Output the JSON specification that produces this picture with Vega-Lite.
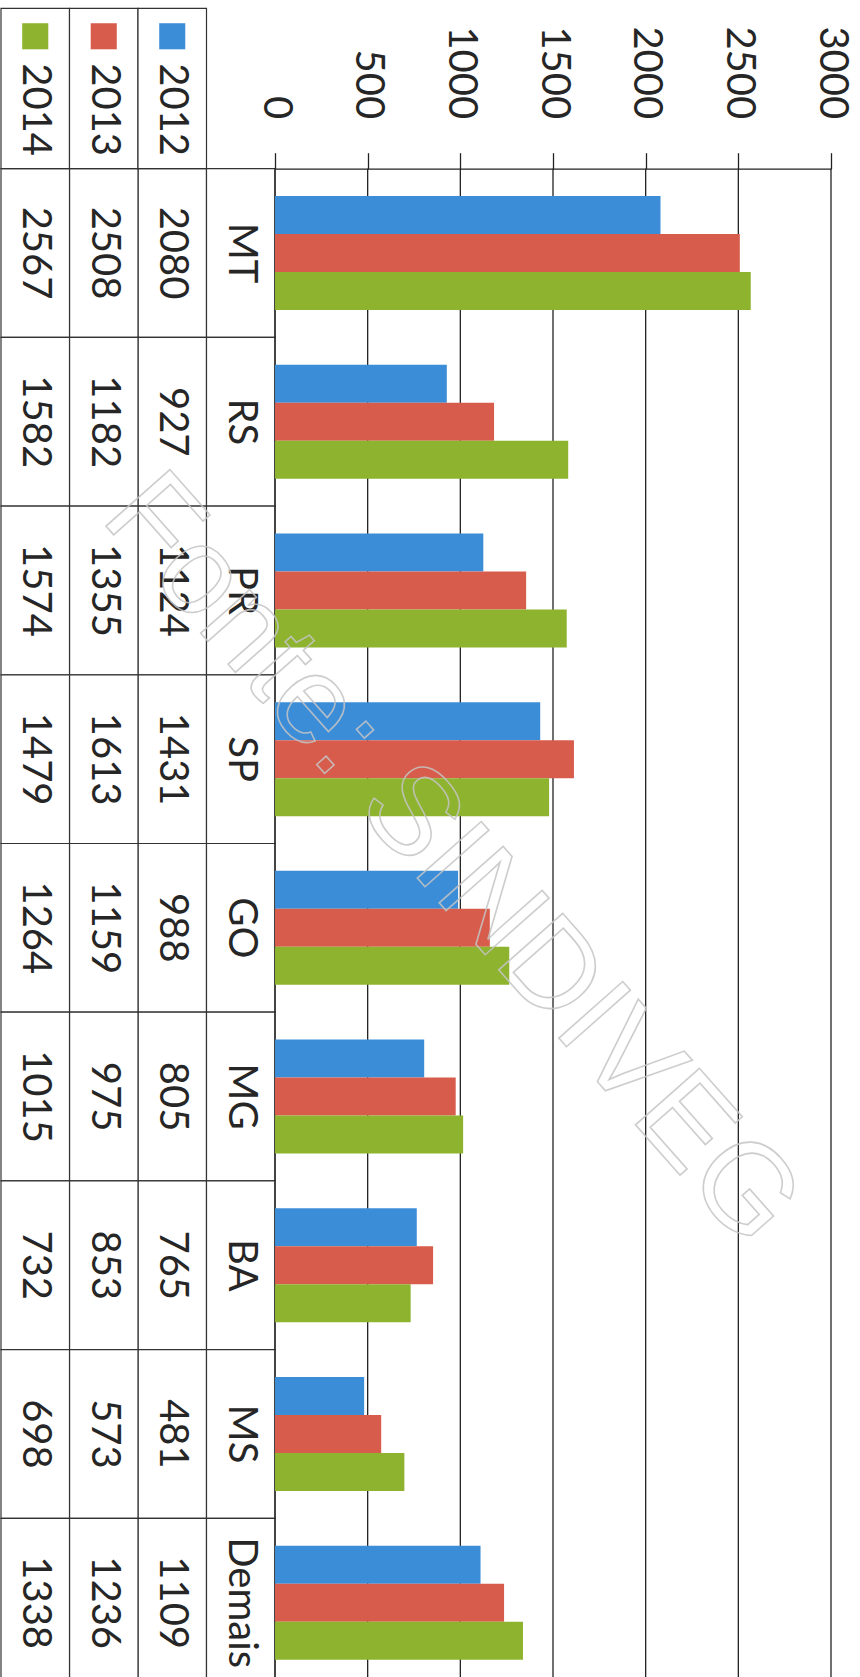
{
  "$schema": "https://vega.github.io/schema/vega-lite/v6.json",
  "padding": 0,
  "spacing": 0,
  "bounds": "flush",
  "background": "white",
  "config": {"view": {"stroke": null}, "font": "Lato"},
  "datasets": {
    "bars": [
      {"cat": "MT", "year": "2012", "value": 2080}, {"cat": "MT", "year": "2013", "value": 2508}, {"cat": "MT", "year": "2014", "value": 2567},
      {"cat": "RS", "year": "2012", "value": 927}, {"cat": "RS", "year": "2013", "value": 1182}, {"cat": "RS", "year": "2014", "value": 1582},
      {"cat": "PR", "year": "2012", "value": 1124}, {"cat": "PR", "year": "2013", "value": 1355}, {"cat": "PR", "year": "2014", "value": 1574},
      {"cat": "SP", "year": "2012", "value": 1431}, {"cat": "SP", "year": "2013", "value": 1613}, {"cat": "SP", "year": "2014", "value": 1479},
      {"cat": "GO", "year": "2012", "value": 988}, {"cat": "GO", "year": "2013", "value": 1159}, {"cat": "GO", "year": "2014", "value": 1264},
      {"cat": "MG", "year": "2012", "value": 805}, {"cat": "MG", "year": "2013", "value": 975}, {"cat": "MG", "year": "2014", "value": 1015},
      {"cat": "BA", "year": "2012", "value": 765}, {"cat": "BA", "year": "2013", "value": 853}, {"cat": "BA", "year": "2014", "value": 732},
      {"cat": "MS", "year": "2012", "value": 481}, {"cat": "MS", "year": "2013", "value": 573}, {"cat": "MS", "year": "2014", "value": 698},
      {"cat": "Demais", "year": "2012", "value": 1109}, {"cat": "Demais", "year": "2013", "value": 1236}, {"cat": "Demais", "year": "2014", "value": 1338}
    ],
    "cats": [{"cat": "MT"}, {"cat": "RS"}, {"cat": "PR"}, {"cat": "SP"}, {"cat": "GO"}, {"cat": "MG"}, {"cat": "BA"}, {"cat": "MS"}, {"cat": "Demais"}],
    "years": [{"year": "2014"}, {"year": "2013"}, {"year": "2012"}],
    "ticks": [{"v": 0}, {"v": 500}, {"v": 1000}, {"v": 1500}, {"v": 2000}, {"v": 2500}, {"v": 3000}]
  },
  "hconcat": [
    {
      "width": 274,
      "height": 1687,
      "layer": [
        {
          "data": {"name": "bars"},
          "mark": {"type": "rect", "fill": "white", "stroke": "#333333", "strokeWidth": 1.2},
          "encoding": {
            "x": {"field": "year", "type": "nominal", "scale": {"domain": ["2014", "2013", "2012", "cat"], "paddingInner": 0, "paddingOuter": 0}, "axis": null},
            "y": {"field": "cat", "type": "nominal", "scale": {"domain": ["hdr", "MT", "RS", "PR", "SP", "GO", "MG", "BA", "MS", "Demais"], "paddingInner": 0, "paddingOuter": 0}, "axis": null}
          }
        },
        {
          "data": {"name": "cats"},
          "mark": {"type": "rect", "fill": "white", "stroke": "#333333", "strokeWidth": 1.2},
          "encoding": {
            "x": {"datum": "cat", "type": "nominal"},
            "y": {"field": "cat", "type": "nominal"}
          }
        },
        {
          "data": {"name": "years"},
          "mark": {"type": "rect", "fill": "white", "stroke": "#333333", "strokeWidth": 1.2},
          "encoding": {
            "x": {"field": "year", "type": "nominal"},
            "y": {"datum": "hdr", "type": "nominal", "bandPosition": 0.05},
            "y2": {"datum": "hdr", "bandPosition": 1}
          }
        },
        {
          "data": {"name": "bars"},
          "mark": {"type": "text", "angle": 90, "fontSize": 40, "font": "Lato", "color": "#262626", "align": "center", "baseline": "middle"},
          "encoding": {
            "x": {"field": "year", "type": "nominal"},
            "y": {"field": "cat", "type": "nominal"},
            "text": {"field": "value", "type": "nominal"}
          }
        },
        {
          "data": {"name": "cats"},
          "mark": {"type": "text", "angle": 90, "fontSize": 40, "font": "Lato", "color": "#262626", "align": "center", "baseline": "middle"},
          "encoding": {
            "x": {"datum": "cat", "type": "nominal"},
            "y": {"field": "cat", "type": "nominal"},
            "text": {"field": "cat", "type": "nominal"}
          }
        },
        {
          "data": {"name": "years"},
          "mark": {"type": "text", "angle": 90, "fontSize": 40, "font": "Lato", "color": "#262626", "align": "center", "baseline": "middle"},
          "encoding": {
            "x": {"field": "year", "type": "nominal"},
            "y": {"datum": "hdr", "type": "nominal", "bandPosition": 0.65},
            "text": {"field": "year", "type": "nominal"}
          }
        },
        {
          "data": {"name": "years"},
          "mark": {"type": "point", "shape": "square", "filled": true, "size": 680, "opacity": 1},
          "encoding": {
            "x": {"field": "year", "type": "nominal"},
            "y": {"datum": "hdr", "type": "nominal", "bandPosition": 0.215},
            "color": {"field": "year", "type": "nominal", "scale": {"domain": ["2012", "2013", "2014"], "range": ["#3c8dd8", "#d85c4c", "#8db32f"]}, "legend": null}
          }
        }
      ]
    },
    {
      "width": 556,
      "height": 1687,
      "layer": [
        {
          "data": {"name": "ticks"},
          "mark": {"type": "rule", "color": "#222222", "strokeWidth": 1.3},
          "encoding": {
            "x": {"field": "v", "type": "quantitative", "scale": {"domain": [0, 3000], "nice": false, "zero": true}},
            "y": {"datum": "MT", "type": "nominal", "bandPosition": 0, "scale": {"domain": ["hdr", "MT", "RS", "PR", "SP", "GO", "MG", "BA", "MS", "Demais"], "paddingInner": 0, "paddingOuter": 0}, "axis": null},
            "y2": {"datum": "Demais", "bandPosition": 1}
          }
        },
        {
          "data": {"name": "bars"},
          "mark": {"type": "bar"},
          "encoding": {
            "x": {
              "field": "value", "type": "quantitative",
              "axis": {
                "orient": "top", "offset": -168.7, "values": [0, 500, 1000, 1500, 2000, 2500, 3000], "format": "d",
                "grid": false, "domain": true, "domainColor": "#222222", "domainWidth": 1.3,
                "ticks": true, "tickSize": 16, "tickColor": "#222222", "tickWidth": 1.3,
                "labelAngle": 90, "labelAlign": "right", "labelBaseline": "middle", "labelPadding": 34,
                "labelFontSize": 40, "labelFont": "Lato", "labelColor": "#262626",
                "labelFlush": false, "labelOverlap": false, "title": null
              }
            },
            "y": {"field": "cat", "type": "nominal", "axis": null},
            "yOffset": {"field": "year", "type": "nominal", "scale": {"domain": ["2012", "2013", "2014"], "paddingInner": 0, "paddingOuter": 0.72}},
            "color": {"field": "year", "type": "nominal", "scale": {"domain": ["2012", "2013", "2014"], "range": ["#3c8dd8", "#d85c4c", "#8db32f"]}, "legend": null}
          }
        },
        {
          "data": {"values": [{}]},
          "mark": {"type": "text", "text": "Fonte: SINDIVEG", "angle": 48.5, "fontSize": 124, "font": "Liberation Sans", "fill": "white", "fillOpacity": 0, "stroke": "#c4c4c4", "strokeWidth": 1.6, "strokeOpacity": 0.85, "align": "center", "baseline": "middle"},
          "encoding": {
            "x": {"datum": 950, "type": "quantitative"},
            "y": {"datum": "GO", "type": "nominal", "bandPosition": 0.1}
          }
        }
      ]
    }
  ]
}
